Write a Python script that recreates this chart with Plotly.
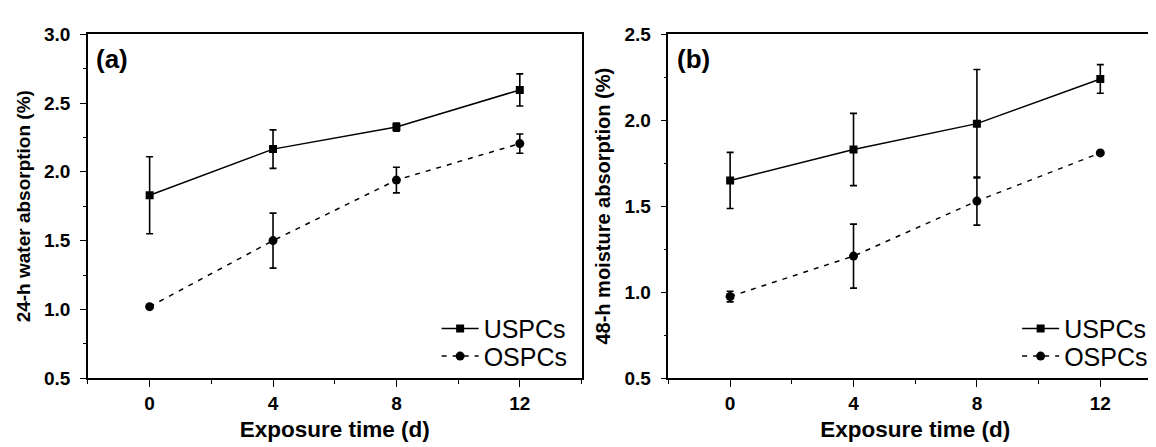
import plotly.graph_objects as go

days = [0, 4, 8, 12]

# (a) 24-h water absorption (%)
a_uspc = [1.83, 2.165, 2.325, 2.595]
a_uspc_err = [0.28, 0.14, 0.03, 0.117]
a_ospc = [1.02, 1.50, 1.94, 2.205]
a_ospc_err = [0.0, 0.20, 0.093, 0.07]

# (b) 48-h moisture absorption (%)
b_uspc = [1.65, 1.83, 1.98, 2.24]
b_uspc_err = [0.163, 0.21, 0.315, 0.083]
b_ospc = [0.975, 1.21, 1.53, 1.81]
b_ospc_err = [0.031, 0.186, 0.14, 0.0]

series_names = ["USPCs", "OSPCs"]
x_ticks = [0, 4, 8, 12]

W, H = 1156, 447
FONT = "Arial, Liberation Sans, Helvetica, sans-serif"


def px_x(p):
    return p / W


def px_y(p):
    return 1 - p / H


fig = go.Figure()


def add_pair(uspc, uspc_err, ospc, ospc_err, xa, ya, leg1, leg2):
    fig.add_trace(go.Scatter(
        x=days, y=uspc, name=series_names[0], xaxis=xa, yaxis=ya, legend=leg1,
        mode="lines+markers",
        line=dict(color="black", width=1.5),
        marker=dict(symbol="square", size=8, color="black"),
        error_y=dict(type="data", array=uspc_err, visible=True,
                     color="black", thickness=1.6, width=3.5),
    ))
    fig.add_trace(go.Scatter(
        x=days, y=ospc, name=series_names[1], xaxis=xa, yaxis=ya, legend=leg2,
        mode="lines+markers",
        line=dict(color="black", width=1.5, dash="5px,6px"),
        marker=dict(symbol="circle", size=9, color="black"),
        error_y=dict(type="data", array=ospc_err, visible=True,
                     color="black", thickness=1.6, width=3.5),
    ))


add_pair(a_uspc, a_uspc_err, a_ospc, a_ospc_err, "x", "y", "legend", "legend2")
add_pair(b_uspc, b_uspc_err, b_ospc, b_ospc_err, "x2", "y2", "legend3", "legend4")

tickfont = dict(family=FONT, size=19, color="black", weight="bold")
xtitle_font = dict(family=FONT, size=22.5, color="black", weight="bold")

common_x = dict(
    range=[-2, 14], tickmode="array", tickvals=x_ticks,
    ticks="outside", ticklen=7, tickwidth=1.4, tickcolor="black",
    minor=dict(dtick=2, tick0=0, ticks="outside", ticklen=4, tickwidth=1.2, tickcolor="black"),
    showline=True, linecolor="black", linewidth=1.5, mirror=True,
    showgrid=False, zeroline=False, tickfont=tickfont,
    title=dict(text="Exposure time (d)", font=xtitle_font, standoff=8),
)
common_y = dict(
    ticks="outside", ticklen=6, tickwidth=1.4, tickcolor="black",
    showline=True, linecolor="black", linewidth=1.5, mirror=True,
    showgrid=False, zeroline=False, tickfont=tickfont, dtick=0.5,
    tickformat=".1f", ticklabelstandoff=6,
)


def leg(xp, yp):
    return dict(x=px_x(xp), y=px_y(yp), xanchor="left", yanchor="middle",
                bgcolor="rgba(0,0,0,0)", borderwidth=0,
                font=dict(family=FONT, size=25, color="black"),
                itemwidth=37)


fig.update_layout(
    width=W, height=H,
    margin=dict(l=0, r=0, t=0, b=0),
    paper_bgcolor="white", plot_bgcolor="white",
    font=dict(family=FONT, color="black"),
    xaxis=dict(domain=[px_x(80), px_x(574)], anchor="y", **common_x),
    yaxis=dict(domain=[px_y(378), px_y(17)], anchor="x", range=[0.5, 3.0],
               minor=dict(dtick=0.25, tick0=0.5, ticks="outside", ticklen=3, tickwidth=1.2, tickcolor="black"),
               title=dict(text="24-h water absorption (%)",
                          font=dict(family=FONT, size=19, color="black", weight="bold"), standoff=8),
               **common_y),
    xaxis2=dict(domain=[px_x(661), px_x(1155)], anchor="y2", **common_x),
    yaxis2=dict(domain=[px_y(378), px_y(17)], anchor="x2", range=[0.5, 2.5],
                minor=dict(dtick=0.25, tick0=0.5, ticks="outside", ticklen=3, tickwidth=1.2, tickcolor="black"),
                title=dict(text="48-h moisture absorption (%)",
                           font=dict(family=FONT, size=20, color="black", weight="bold"), standoff=8),
                **common_y),
    legend=leg(429, 326),
    legend2=leg(429, 355),
    legend3=leg(1010, 326),
    legend4=leg(1010, 355),
    showlegend=True,
)

fig.add_annotation(text="(a)", x=px_x(104), y=px_y(43), xref="paper", yref="paper",
                   showarrow=False, xanchor="center", yanchor="middle",
                   font=dict(family=FONT, size=26, color="black", weight="bold"))
fig.add_annotation(text="(b)", x=px_x(686), y=px_y(43), xref="paper", yref="paper",
                   showarrow=False, xanchor="center", yanchor="middle",
                   font=dict(family=FONT, size=26, color="black", weight="bold"))

fig.write_html("out.html")
